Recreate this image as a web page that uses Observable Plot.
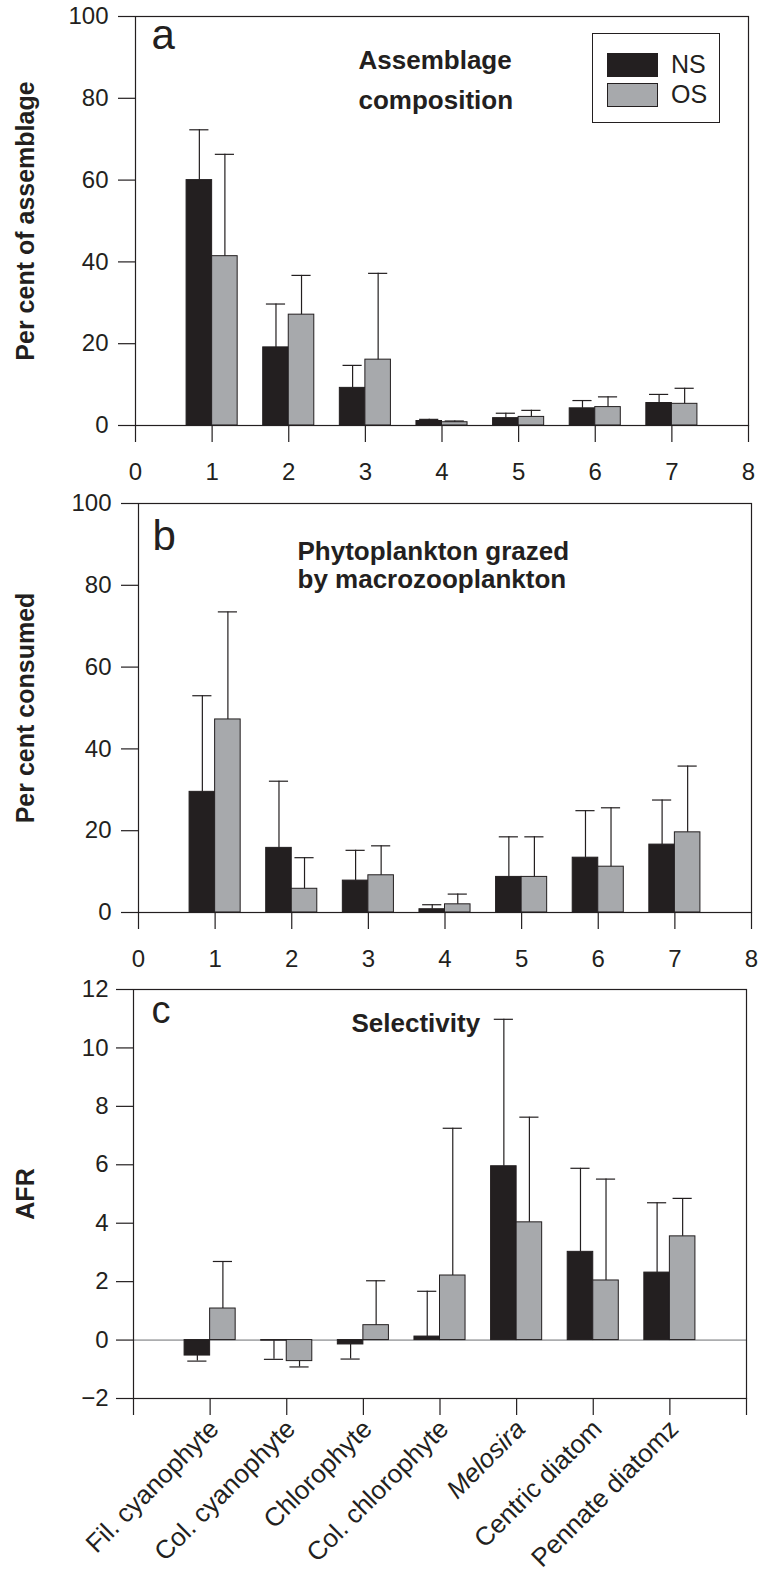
<!DOCTYPE html>
<html>
<head>
<meta charset="utf-8">
<script src="https://cdn.jsdelivr.net/npm/d3@7"></script>
<script src="https://cdn.jsdelivr.net/npm/@observablehq/plot@0.6"></script>
<style>
  html, body { margin: 0; padding: 0; background: #fff; }
  #chart { position: relative; width: 758px; height: 1575px; font-family: "Liberation Sans", Arial, Helvetica, sans-serif; color: #231f20; }
  #chart svg { display: block; }
  .legend { position: absolute; left: 592px; top: 33px; width: 128px; height: 90px; border: 1.3px solid #231f20; box-sizing: border-box; }
  .legend .row { position: absolute; left: 14px; height: 25px; display: flex; align-items: center; }
  .legend .sw { width: 51px; height: 24px; border: 1px solid #231f20; box-sizing: border-box; margin-right: 13px; }
  .legend .lab { font-size: 25px; line-height: 25px; }
</style>
</head>
<body>
<div id="chart"></div>
<script>
// ---------- data ----------
const positions = [1, 2, 3, 4, 5, 6, 7];
const categories = ["Fil. cyanophyte", "Col. cyanophyte", "Chlorophyte", "Col. chlorophyte", "Melosira", "Centric diatom", "Pennate diatomz"];
const italicCategories = ["Melosira"];
const series = ["NS", "OS"];
const seriesColors = ["#231f20", "#a7a9ac"];

// panel a: per cent of assemblage (mean, upper error)
const assemblageNS    = [60.0, 19.1,  9.2, 1.1, 1.8, 4.2, 5.5];
const assemblageNSErr = [72.3, 29.7, 14.7, 1.5, 3.0, 6.1, 7.6];
const assemblageOS    = [41.4, 27.1, 16.1, 0.8, 2.1, 4.5, 5.3];
const assemblageOSErr = [66.3, 36.7, 37.2, 1.1, 3.7, 7.0, 9.1];

// panel b: per cent consumed
const grazedNS    = [29.5, 15.8,  7.8, 0.8,  8.7, 13.4, 16.6];
const grazedNSErr = [53.0, 32.1, 15.2, 1.9, 18.5, 24.9, 27.5];
const grazedOS    = [47.2,  5.8,  9.1, 2.0,  8.7, 11.2, 19.6];
const grazedOSErr = [73.5, 13.4, 16.3, 4.5, 18.5, 25.6, 35.8];

// panel c: AFR selectivity
const afrNS    = [-0.53, -0.02, -0.15, 0.12,  5.95, 3.02, 2.31];
const afrNSErr = [-0.72, -0.66, -0.65, 1.67, 10.98, 5.88, 4.70];
const afrOS    = [ 1.08, -0.72,  0.51, 2.21,  4.03, 2.04, 3.55];
const afrOSErr = [ 2.69, -0.92,  2.03, 7.25,  7.63, 5.51, 4.85];

const xTicks = [0, 1, 2, 3, 4, 5, 6, 7, 8];
const pctTicks = [0, 20, 40, 60, 80, 100];
const afrTicks = [-2, 0, 2, 4, 6, 8, 10, 12];

const panelLetters = ["a", "b", "c"];
const panelTitles = [["Assemblage", "composition"], ["Phytoplankton grazed", "by macrozooplankton"], ["Selectivity"]];
const yLabels = ["Per cent of assemblage", "Per cent consumed", "AFR"];

// ---------- drawing ----------
const ink = "#231f20";
const font = '"Liberation Sans", Arial, Helvetica, sans-serif';
const barW = 1 / 3;
const capHalf = 0.125;

function rowsOf(ns, nsErr, os, osErr) {
  return positions.flatMap((p, i) => [
    {pos: p, series: series[0], k: 0, value: ns[i], err: nsErr[i]},
    {pos: p, series: series[1], k: 1, value: os[i], err: osErr[i]}
  ]);
}
const center = d => d.pos + (d.k === 0 ? -1 : 1) * barW / 2;

function panel(cfg) {
  const rows = rowsOf(...cfg.values);
  const marks = [];
  if (cfg.zeroLine) marks.push(Plot.ruleY([0], {stroke: "#6d6e71", strokeWidth: 1}));
  series.forEach((s, k) => {
    marks.push(Plot.rectY(rows.filter(d => d.k === k), {
      x1: d => center(d) - barW / 2, x2: d => center(d) + barW / 2,
      y1: 0, y2: "value", fill: seriesColors[k], stroke: ink, strokeWidth: 1
    }));
  });
  marks.push(Plot.ruleX(rows, {x: center, y1: "value", y2: "err", stroke: ink, strokeWidth: 1.2}));
  marks.push(Plot.ruleY(rows, {y: "err", x1: d => center(d) - capHalf, x2: d => center(d) + capHalf, stroke: ink, strokeWidth: 1.2}));
  marks.push(Plot.frame({stroke: ink, strokeWidth: 1.2}));
  marks.push(Plot.axisY({ticks: cfg.yTicks, tickSize: 17, tickPadding: cfg.yPad, label: null, strokeWidth: 1.2}));
  if (cfg.categoryAxis) {
    marks.push(Plot.axisX({ticks: xTicks, tickSize: 17, tickFormat: () => "", label: null, strokeWidth: 1.2}));
    const lab = {
      x: (d, i) => positions[i], frameAnchor: "bottom", dx: 10, dy: 32, rotate: -45,
      textAnchor: "end", lineAnchor: "bottom", fontSize: 26, fill: ink
    };
    marks.push(Plot.text(categories, {...lab, filter: d => !italicCategories.includes(d)}));
    marks.push(Plot.text(categories, {...lab, filter: d => italicCategories.includes(d), fontStyle: "italic"}));
  } else {
    marks.push(Plot.axisX({ticks: xTicks, tickSize: 17, tickPadding: 20, label: null, strokeWidth: 1.2}));
  }
  // panel letter
  marks.push(Plot.text([panelLetters[cfg.index]], {
    frameAnchor: "top-left", dx: cfg.letter[0], dy: cfg.letter[1], textAnchor: "start",
    lineAnchor: "bottom", fontSize: cfg.letterSize, fill: ink
  }));
  // panel title lines
  panelTitles[cfg.index].forEach((line, j) => {
    marks.push(Plot.text([line], {
      frameAnchor: "top-left", dx: cfg.title[0], dy: cfg.title[1] + j * cfg.titleGap,
      textAnchor: "start", lineAnchor: "bottom", fontSize: 26, fontWeight: "bold", fill: ink
    }));
  });
  // y label
  marks.push(Plot.text([yLabels[cfg.index]], {
    frameAnchor: "left", dx: 25 - cfg.marginLeft, rotate: -90, textAnchor: "middle",
    lineAnchor: "middle", fontSize: 25, fontWeight: "bold", fill: ink
  }));
  return Plot.plot({
    width: 758, height: cfg.height,
    marginTop: cfg.marginTop, marginBottom: cfg.marginBottom,
    marginLeft: cfg.marginLeft, marginRight: 758 - cfg.marginLeft - 613,
    x: {domain: [0, 8]},
    y: {domain: cfg.yDomain},
    style: {fontFamily: font, fontSize: "24px", color: ink, background: "white", overflow: "visible"},
    marks
  });
}

const chart = document.getElementById("chart");

chart.appendChild(panel({
  index: 0, values: [assemblageNS, assemblageNSErr, assemblageOS, assemblageOSErr],
  height: 488, marginTop: 16, marginBottom: 63, marginLeft: 135,
  yDomain: [0, 100], yTicks: pctTicks, yPad: 10,
  letter: [16, 32], letterSize: 42, title: [223, 52], titleGap: 40
}));
chart.appendChild(panel({
  index: 1, values: [grazedNS, grazedNSErr, grazedOS, grazedOSErr],
  height: 487, marginTop: 15, marginBottom: 63, marginLeft: 138,
  yDomain: [0, 100], yTicks: pctTicks, yPad: 10,
  letter: [14, 46], letterSize: 42, title: [159, 56], titleGap: 28.7
}));
chart.appendChild(panel({
  index: 2, values: [afrNS, afrNSErr, afrOS, afrOSErr],
  height: 600, marginTop: 14, marginBottom: 177, marginLeft: 133,
  yDomain: [-2, 12], yTicks: afrTicks, yPad: 8, zeroLine: true, categoryAxis: true,
  letter: [18, 33], letterSize: 38, title: [218, 42.5], titleGap: 0
}));

// legend (inside panel a)
const legend = document.createElement("div");
legend.className = "legend";
series.forEach((s, k) => {
  const row = document.createElement("div");
  row.className = "row";
  row.style.top = (k === 0 ? 18 : 48) + "px";
  const sw = document.createElement("div");
  sw.className = "sw";
  sw.style.background = seriesColors[k];
  const lab = document.createElement("span");
  lab.className = "lab";
  lab.textContent = s;
  row.appendChild(sw);
  row.appendChild(lab);
  legend.appendChild(row);
});
chart.appendChild(legend);
</script>
</body>
</html>
